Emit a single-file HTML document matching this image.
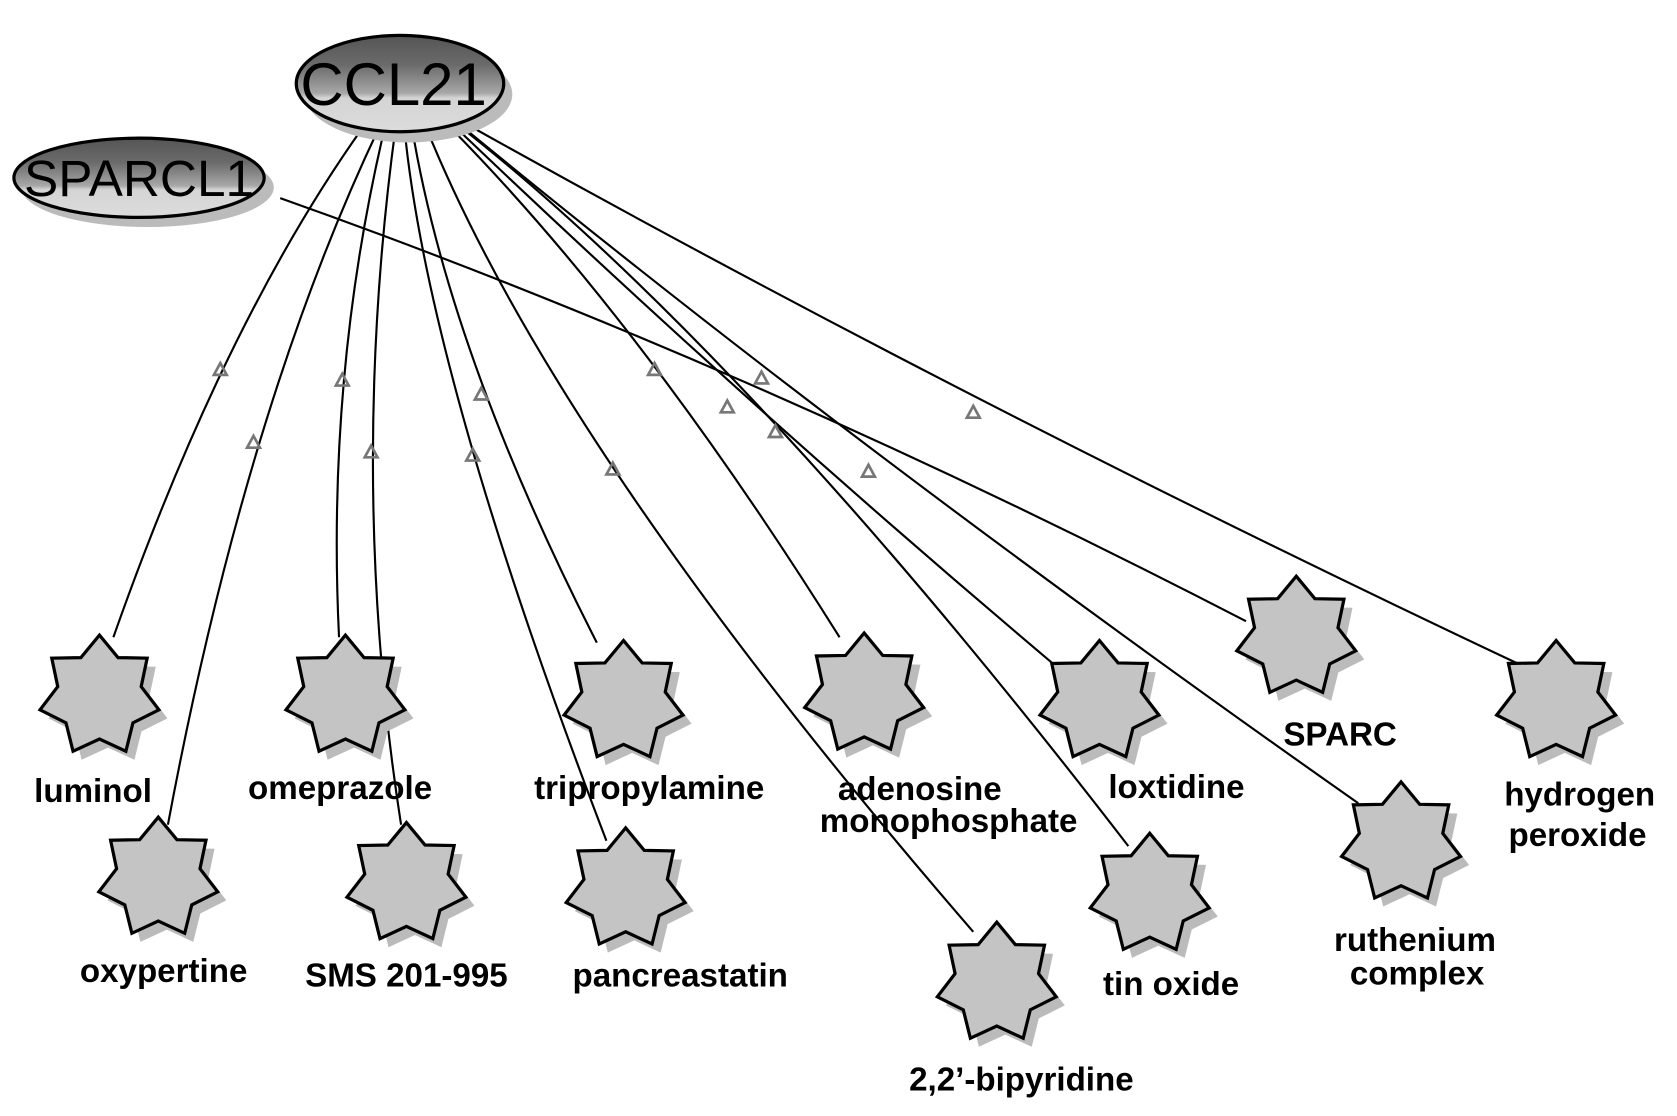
<!DOCTYPE html>
<html><head><meta charset="utf-8"><style>
html,body{margin:0;padding:0;background:#fff;}
svg{display:block;}
text{font-family:"Liberation Sans",sans-serif;}
.l{font-size:31px;font-weight:bold;fill:#000;text-anchor:middle;}
</style></head><body>
<svg width="1677" height="1116" viewBox="0 0 1568 1042" preserveAspectRatio="none" xmlns="http://www.w3.org/2000/svg">
<defs>
<linearGradient id="g" x1="0" y1="0" x2="0" y2="1">
<stop offset="0" stop-color="#555"/><stop offset="0.3" stop-color="#6a6a6a"/><stop offset="0.45" stop-color="#888"/><stop offset="0.6" stop-color="#a8a8a8"/><stop offset="0.65" stop-color="#d4d4d4"/><stop offset="1" stop-color="#dcdcdc"/>
</linearGradient>
<path id="st" d="M0,-57 L17.4,-36 L44.6,-35.5 L39,-8.9 L55.6,12.7 L31.3,24.9 L24.7,51.4 L0,40 L-24.7,51.4 L-31.3,24.9 L-55.6,12.7 L-39,-8.9 L-44.6,-35.5 L-17.4,-36 Z"/>
<g id="star"><use href="#st" x="8" y="8" fill="#bbb"/><use href="#st" fill="#c4c4c4" stroke="#000" stroke-width="3" stroke-linejoin="miter"/></g>
<path id="ar" d="M0,-6 L6,5 L-6,5 Z" fill="none" stroke="#777" stroke-width="2.5"/>
</defs>
<g fill="none" stroke="#000" stroke-width="2">
<path d="M340,118 Q210,300 106,595"/>
<path d="M355,118 Q230,380 157,770"/>
<path d="M360,118 Q305,350 317,595"/>
<path d="M370,118 Q325,450 375,770"/>
<path d="M378,118 Q400,350 567,785"/>
<path d="M385,118 Q420,330 558,600"/>
<path d="M398,118 Q520,420 910,870"/>
<path d="M420,118 Q600,300 785,595"/>
<path d="M425,118 Q700,380 985,620"/>
<path d="M430,118 Q700,330 1055,790"/>
<path d="M432,118 Q800,420 1270,750"/>
<path d="M440,118 Q900,375 1420,620"/>
<path d="M262,185 Q700,340 1165,580"/>
</g>
<use href="#ar" x="206" y="345"/><use href="#ar" x="237" y="413"/><use href="#ar" x="320" y="355"/>
<use href="#ar" x="347" y="422"/><use href="#ar" x="442" y="425"/><use href="#ar" x="450" y="368"/>
<use href="#ar" x="573" y="438"/><use href="#ar" x="612" y="345"/><use href="#ar" x="680" y="380"/>
<use href="#ar" x="712" y="353"/><use href="#ar" x="725" y="403"/><use href="#ar" x="812" y="440"/>
<use href="#ar" x="910" y="385"/>
<ellipse cx="138" cy="175" rx="118" ry="37" fill="#bbb"/>
<ellipse cx="130" cy="166" rx="117" ry="37" fill="url(#g)" stroke="#000" stroke-width="3"/>
<text x="130" y="183" font-size="48" text-anchor="middle" fill="#000">SPARCL1</text>
<ellipse cx="382" cy="88" rx="97" ry="45" fill="#bbb"/>
<ellipse cx="374" cy="78" rx="97" ry="45" fill="url(#g)" stroke="#000" stroke-width="3"/>
<text x="368" y="98" font-size="56" text-anchor="middle" fill="#000">CCL21</text>
<use href="#star" x="93" y="650"/>
<use href="#star" x="148" y="820"/>
<use href="#star" x="323" y="650"/>
<use href="#star" x="380" y="825"/>
<use href="#star" x="583" y="655"/>
<use href="#star" x="585" y="830"/>
<use href="#star" x="808" y="648"/>
<use href="#star" x="932" y="918"/>
<use href="#star" x="1028" y="655"/>
<use href="#star" x="1075" y="835"/>
<use href="#star" x="1212" y="595"/>
<use href="#star" x="1310" y="787"/>
<use href="#star" x="1455" y="655"/>
<text class="l" x="87" y="749">luminol</text>
<text class="l" x="153" y="917">oxypertine</text>
<text class="l" x="318" y="746">omeprazole</text>
<text class="l" x="380" y="921">SMS 201-995</text>
<text class="l" x="607" y="746">tripropylamine</text>
<text class="l" x="636" y="921">pancreastatin</text>
<text class="l" x="860" y="747">adenosine</text>
<text class="l" x="887" y="777">monophosphate</text>
<text class="l" x="955" y="1018">2,2’-bipyridine</text>
<text class="l" x="1100" y="745">loxtidine</text>
<text class="l" x="1095" y="929">tin oxide</text>
<text class="l" x="1253" y="696">SPARC</text>
<text class="l" x="1323" y="888">ruthenium</text>
<text class="l" x="1325" y="919">complex</text>
<text class="l" x="1477" y="752">hydrogen</text>
<text class="l" x="1475" y="790">peroxide</text>
</svg>
</body></html>
